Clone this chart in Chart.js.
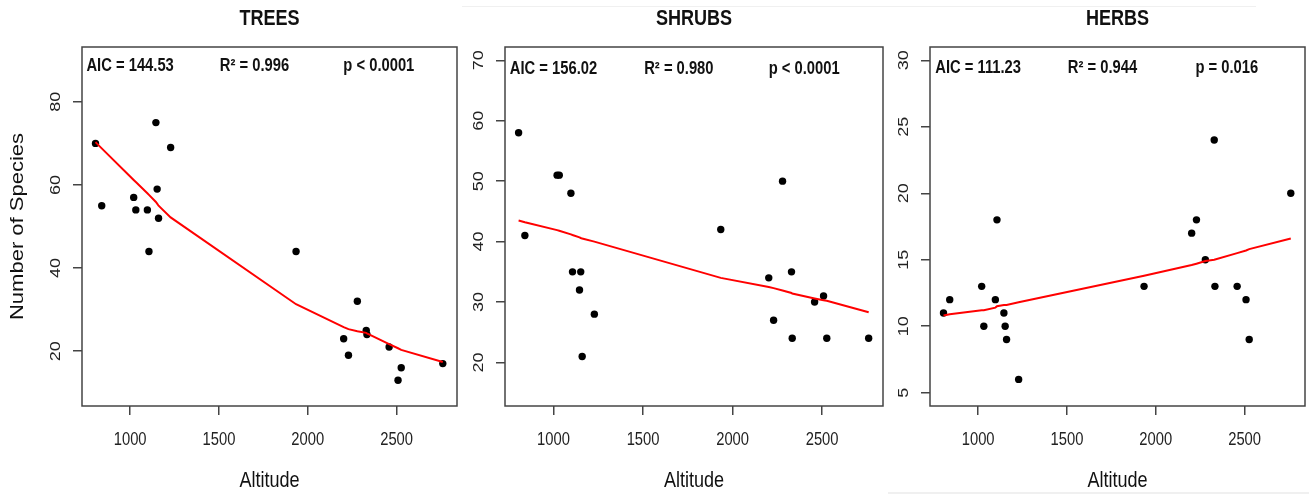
<!DOCTYPE html>
<html>
<head>
<meta charset="utf-8">
<script src="https://cdn.jsdelivr.net/npm/chart.js@4.4.1/dist/chart.umd.min.js"></script>
<style>
	html, body { margin: 0; padding: 0; background: #fff; }
	#wrap { position: relative; width: 1309px; height: 494px; overflow: hidden; }
	canvas { position: absolute; top: 0; }
	.edge { position: absolute; background: #f0f0f0; }
</style>
</head>
<body>
<div id="wrap">
	<div class="edge" style="left:462px; top:6px; width:794px; height:1px"></div>
	<div class="edge" style="left:888px; top:492px; width:421px; height:2px"></div>
	<canvas id="trees" width="470" height="494" style="left:0px"></canvas>
	<canvas id="shrubs" width="425" height="494" style="left:470px"></canvas>
	<canvas id="herbs" width="414" height="494" style="left:895px"></canvas>
</div>
<script>
// Высота над уровнем моря (общая для всех трёх панелей)
const altitude = [805, 840, 1020, 1032, 1097, 1106, 1145, 1152, 1160, 1228, 1934, 2202, 2229, 2279, 2329, 2333, 2458, 2508, 2526, 2760];

// Число видов
const trees = [70, 55, 57, 54, 54, 44, 75, 59, 52, 69, 44, 23, 19, 32, 25, 24, 21, 13, 16, 17];
const shrubs = [58, 41, 51, 51, 48, 35, 32, 35, 21, 28, 42, 34, 27, 50, 35, 24, 30, 31, 24, 24];
const herbs = [11, 12, 13, 10, 12, 18, 11, 10, 9, 6, 13, 17, 18, 15, 24, 13, 13, 12, 9, 20];

// Подогнанная модель (красная линия)
const treesFit = [70.3, 68.8, 61.2, 60.7, 58.0, 57.6, 55.9, 55.5, 55.0, 52.2, 31.3, 25.8, 25.3, 24.8, 24.4, 24.3, 21.7, 20.7, 20.3, 17.4];
const shrubsFit = [43.5, 43.2, 41.9, 41.8, 41.2, 41.1, 40.7, 40.6, 40.5, 40.0, 34.0, 32.5, 32.3, 31.9, 31.5, 31.4, 30.6, 30.3, 30.2, 28.3];
const herbsFit = [10.8, 10.9, 11.2, 11.2, 11.4, 11.5, 11.6, 11.6, 11.6, 11.8, 13.8, 14.6, 14.7, 14.9, 15.0, 15.0, 15.5, 15.7, 15.8, 16.6];

// Деления осей
const altitudeTicks = [1000, 1500, 2000, 2500];
const treesTicks = [20, 40, 60, 80];
const shrubsTicks = [20, 30, 40, 50, 60, 70];
const herbsTicks = [5, 10, 15, 20, 25, 30];

// Статистика
const aicLabels = ["AIC = 144.53", "AIC = 156.02", "AIC = 111.23"];
const r2Labels = ["R² = 0.996", "R² = 0.980", "R² = 0.944"];
const pLabels = ["p < 0.0001", "p < 0.0001", "p = 0.016"];

const SANS = "'Liberation Sans', Arial, sans-serif";
const AXIS = "#444";

// Узкий шрифт: сжимаем текст по горизонтали вокруг точки привязки
function squeezeText(canvas, k) {
	const ctx = canvas.getContext("2d");
	const fill = ctx.fillText.bind(ctx);
	ctx.fillText = function (text, x, y, maxWidth) {
		const m = ctx.getTransform();
		const p = m.transformPoint(new DOMPoint(x, y));
		ctx.save();
		ctx.setTransform(new DOMMatrix().translate(p.x, p.y).scale(k, 1).translate(-p.x, -p.y).multiply(m));
		if (maxWidth === undefined) fill(text, x, y);
		else fill(text, x, y, maxWidth);
		ctx.restore();
	};
}

// Рамка вокруг области графика
const boxPlugin = {
	id: "box",
	afterDraw(chart) {
		const a = chart.chartArea;
		const ctx = chart.ctx;
		ctx.save();
		ctx.strokeStyle = AXIS;
		ctx.lineWidth = 1.5;
		ctx.strokeRect(a.left, a.top, a.right - a.left, a.bottom - a.top);
		ctx.restore();
	},
};

// Подписи AIC / R² / p, по координатам данных
const statsPlugin = {
	id: "stats",
	afterDraw(chart, args, opts) {
		const ctx = chart.ctx;
		const xs = chart.scales.x;
		const ys = chart.scales.y;
		const y = ys.getPixelForValue(opts.y);
		ctx.save();
		ctx.font = "bold 18px " + SANS;
		ctx.fillStyle = "#111";
		ctx.textAlign = "center";
		ctx.textBaseline = "middle";
		opts.labels.forEach((t, i) => {
			ctx.fillText(t, xs.getPixelForValue(opts.x[i]), y);
		});
		ctx.restore();
	},
};

function makePanel(id, title, values, fitted, idx, yMin, yMax, yTicks, statY, axisW, padRight, yTitle) {
	const ctx = document.getElementById(id);
	squeezeText(ctx, 0.82);
	const pts = altitude.map((a, i) => ({ x: a, y: values[i] }));
	const line = altitude.map((a, i) => ({ x: a, y: fitted[i] }));

	new Chart(ctx, {
		type: "scatter",
		data: {
			datasets: [
				{
					type: "line",
					data: line,
					borderColor: "#ff0000",
					borderWidth: 2,
					pointRadius: 0,
					fill: false,
					tension: 0,
				},
				{
					data: pts,
					backgroundColor: "#000",
					borderWidth: 0,
					pointRadius: 3.7,
				},
			],
		},
		options: {
			responsive: false,
			animation: false,
			devicePixelRatio: 1,
			layout: { padding: { left: 0, right: padRight, top: 0, bottom: 0 } },
			plugins: {
				legend: { display: false },
				tooltip: { enabled: false },
				title: {
					display: true,
					fullSize: false,
					text: title,
					color: "#111",
					font: { family: SANS, size: 22, weight: "bold" },
					padding: { top: 6, bottom: 14.6 },
				},
				stats: {
					x: [1000, 1700, 2400],
					y: statY,
					labels: [aicLabels[idx], r2Labels[idx], pLabels[idx]],
				},
			},
			scales: {
				x: {
					type: "linear",
					min: 729,
					max: 2840,
					afterBuildTicks: (s) => { s.ticks = altitudeTicks.map((v) => ({ value: v })); },
					afterFit: (s) => { s.height = 88; },
					border: { display: false },
					grid: { drawOnChartArea: false, drawTicks: true, tickLength: 9, color: AXIS, lineWidth: 1.5 },
					ticks: {
						autoSkip: false,
						maxRotation: 0,
						padding: 14,
						color: "#222",
						font: { family: SANS, size: 18 },
						callback: (v) => String(v),
					},
					title: {
						display: true,
						text: "Altitude",
						color: "#111",
						font: { family: SANS, size: 22 },
						padding: { top: 0, bottom: 0 },
					},
				},
				y: {
					type: "linear",
					min: yMin,
					max: yMax,
					afterBuildTicks: (s) => { s.ticks = yTicks.map((v) => ({ value: v })); },
					afterFit: (s) => { s.width = axisW; },
					border: { display: false },
					grid: { drawOnChartArea: false, drawTicks: true, tickLength: 9, color: AXIS, lineWidth: 1.5 },
					ticks: {
						autoSkip: false,
						minRotation: 90,
						maxRotation: 90,
						crossAlign: "center",
						padding: 7,
						color: "#222",
						font: { family: SANS, size: 18 },
						callback: (v) => String(v),
					},
					title: {
						display: !!yTitle,
						text: yTitle || "",
						color: "#111",
						font: { family: SANS, size: 22 },
						padding: { top: 5, bottom: 0 },
					},
				},
			},
		},
		plugins: [boxPlugin, statsPlugin],
	});
}

makePanel("trees", "TREES", trees, treesFit, 0, 6.8, 93.2, treesTicks, 88.6, 82, 13, "Number of Species");
makePanel("shrubs", "SHRUBS", shrubs, shrubsFit, 1, 12.8, 72.2, shrubsTicks, 68.6, 35, 12, null);
makePanel("herbs", "HERBS", herbs, herbsFit, 2, 4, 31, herbsTicks, 29.4, 35, 4, null);
</script>
</body>
</html>
